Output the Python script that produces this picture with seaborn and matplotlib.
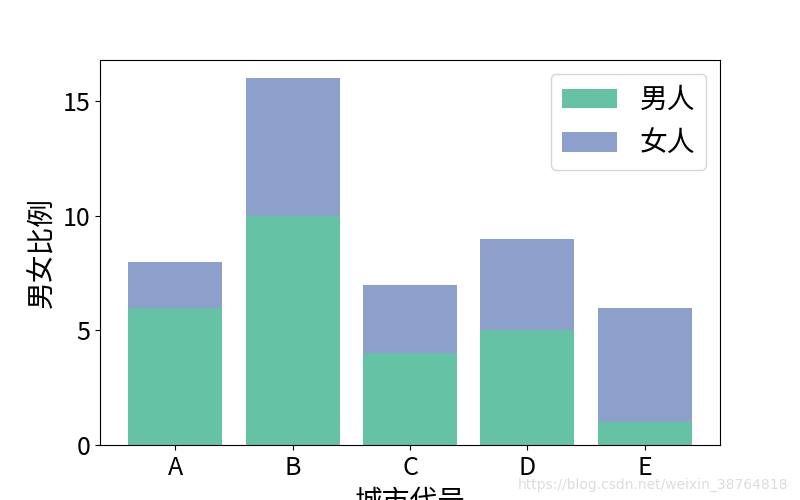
import matplotlib
matplotlib.use("Agg")
import matplotlib.pyplot as plt
import seaborn as sns
import pandas as pd

cities = ["A", "B", "C", "D", "E"]
men = [6, 10, 4, 5, 1]
women = [2, 6, 3, 4, 5]
yticks = [0, 5, 10, 15]

plt.rcParams['font.family'] = ['Noto Sans CJK SC', 'DejaVu Sans']
plt.rcParams['axes.unicode_minus'] = False

df = pd.DataFrame({"city": cities, "men": men, "women": women})
df["total"] = df["men"] + df["women"]

fig, ax = plt.subplots(figsize=(8, 5), dpi=100)
sns.barplot(data=df, x="city", y="total", color="#8da0cb", saturation=1,
            width=0.8, ax=ax, label="女人")
sns.barplot(data=df, x="city", y="men", color="#66c2a5", saturation=1,
            width=0.8, ax=ax, label="男人")
ax.set_xlim(-0.64, 4.64)
ax.set_ylim(0, 16.8)
ax.set_yticks(yticks)
ax.set_xlabel("城市代号", fontsize=20)
ax.set_ylabel("男女比例", fontsize=20)
ax.tick_params(labelsize=18)
handles, labels = ax.get_legend_handles_labels()
order = [labels.index("男人"), labels.index("女人")]
ax.legend([handles[i] for i in order], [labels[i] for i in order],
          loc="upper right", fontsize=20)
fig.text(0.985, 0.03, "https://blog.csdn.net/weixin_38764818", ha="right",
         va="center", fontsize=10, color="#dddddd", family=["DejaVu Sans"])
fig.subplots_adjust(left=0.125, right=0.9, top=0.88, bottom=0.11)
fig.savefig("out.png", dpi=100)
